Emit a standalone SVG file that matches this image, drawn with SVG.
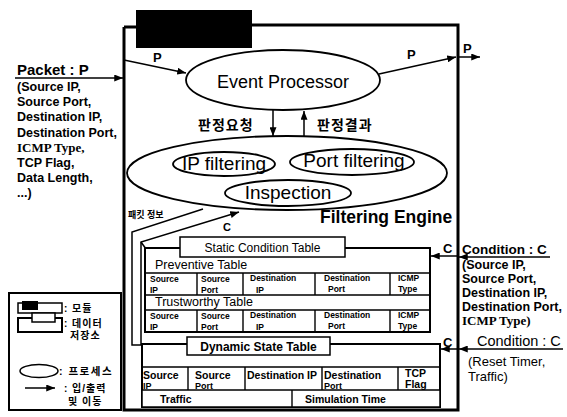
<svg xmlns="http://www.w3.org/2000/svg" width="567" height="417" viewBox="0 0 567 417">
<defs>
<marker id="ah" viewBox="0 0 10 8" refX="10" refY="4" markerWidth="9" markerHeight="7" markerUnits="userSpaceOnUse" orient="auto"><path d="M0,0 L10,4 L0,8 z" fill="#000"/></marker>
</defs>
<style>
.t{font-family:"Liberation Sans",Arial,sans-serif;fill:#000}
.b{font-weight:bold}
.s{font-family:"Liberation Serif","Times New Roman",serif;font-weight:bold;fill:#000}
.k{font-family:"Liberation Sans","Noto Sans CJK KR",sans-serif;font-weight:bold;fill:#000}
.ln{fill:none;stroke:#000;stroke-width:1.5}
.box{fill:#fff;stroke:#000;stroke-width:2}
.cell{fill:none;stroke:#000;stroke-width:1.4}
.ell{fill:#fff;stroke:#000;stroke-width:1.8}
.c8{font-size:8.5px}
.c10{font-size:10.5px}
</style>
<rect x="0" y="0" width="567" height="417" fill="#fff"/>

<g id="module">
<path d="M124,27 L136,27 M252,25 L458,25 L458,410 L124,410 L124,27" fill="none" stroke="#000" stroke-width="3"/>
<rect x="136" y="10" width="116" height="38" fill="#000"/>
</g>

<g id="event-processor">
<ellipse cx="283" cy="80" rx="97" ry="30" class="ell"/>
<text x="283" y="88" class="t" font-size="18" text-anchor="middle">Event Processor</text>
</g>

<g id="filtering-engine">
<ellipse cx="287" cy="173" rx="160" ry="37" class="ell"/>
<ellipse cx="224" cy="164" rx="51" ry="12" class="ell"/>
<text x="224" y="170" class="t" font-size="19" text-anchor="middle">IP filtering</text>
<ellipse cx="352" cy="162" rx="62" ry="13" class="ell"/>
<text x="354" y="167" class="t" font-size="19" text-anchor="middle">Port filtering</text>
<ellipse cx="288" cy="193" rx="63" ry="13" class="ell"/>
<text x="288" y="199" class="t" font-size="19" text-anchor="middle">Inspection</text>
<text x="320" y="223" class="t b" font-size="17.5">Filtering Engine</text>
</g>

<g id="static-condition-table">
<rect x="145" y="248" width="285" height="84" class="box"/>
<path class="cell" d="M145,273 H430 M145,295 H430 M145,310 H430 M197,273 V295 M243,273 V295 M315,273 V295 M390,273 V295 M197,310 V332 M243,310 V332 M315,310 V332 M390,310 V332"/>
<rect x="180" y="237" width="165" height="20" fill="#fff" stroke="#000" stroke-width="1.5"/>
<text x="262.5" y="252" class="t" font-size="12" text-anchor="middle">Static Condition Table</text>
<text x="155" y="269" class="t" font-size="12.5">Preventive Table</text>
<text x="155" y="306" class="t" font-size="12.5">Trustworthy Table</text>
<g class="t b c8">
<text x="150" y="282">Source</text><text x="150" y="293">IP</text>
<text x="201" y="282">Source</text><text x="201" y="293">Port</text>
<text x="250" y="281">Destination</text><text x="256" y="293">IP</text>
<text x="324" y="281">Destination</text><text x="328" y="292">Port</text>
<text x="398" y="281">ICMP</text><text x="398" y="292">Type</text>
<text x="150" y="319">Source</text><text x="150" y="330">IP</text>
<text x="201" y="319">Source</text><text x="201" y="330">Port</text>
<text x="250" y="318">Destination</text><text x="256" y="330">IP</text>
<text x="324" y="318">Destination</text><text x="328" y="329">Port</text>
<text x="398" y="318">ICMP</text><text x="398" y="329">Type</text>
</g>
</g>

<g id="dynamic-state-table">
<rect x="142" y="344" width="298" height="63" class="box"/>
<path class="cell" d="M142,367 H440 M188,367 V390 M245,367 V390 M322,367 V390 M398,367 V390"/>
<g class="t b c10">
<text x="143" y="379">Source</text><text x="143" y="389" font-size="9">IP</text>
<text x="195" y="379">Source</text><text x="195" y="389" font-size="9">Port</text>
<text x="247" y="379">Destination IP</text>
<text x="324" y="379">Destination</text><text x="324" y="389" font-size="9">Port</text>
<text x="405" y="377">TCP</text><text x="405" y="388">Flag</text>
</g>
<rect x="142" y="390" width="298" height="17" fill="#fff" stroke="#000" stroke-width="1.5"/>
<path class="cell" d="M292,390 V407"/>
<text x="160" y="403" class="t b c10">Traffic</text>
<text x="305" y="403" class="t b c10">Simulation Time</text>
<rect x="187" y="337" width="143" height="18" fill="#fff" stroke="#000" stroke-width="1.5"/>
<text x="258.5" y="351" class="t b" font-size="12" text-anchor="middle">Dynamic State Table</text>
</g>

<g id="connectors">
<path class="ln" d="M15,78 L123,78" marker-end="url(#ah)"/>
<path class="ln" d="M124,60 L186,73" marker-end="url(#ah)"/>
<path class="ln" d="M379,74 L456,57" marker-end="url(#ah)"/>
<path class="ln" d="M458,57 L480,57" marker-end="url(#ah)"/>
<path class="ln" d="M273,110 L273,136" marker-end="url(#ah)"/>
<path class="ln" d="M304,137 L304,111" marker-end="url(#ah)"/>
<path class="ln" d="M203,209 L132,232 L132,345 L142,345"/>
<path class="ln" d="M141,345 L141,242 L239,212" marker-end="url(#ah)"/>
<path class="ln" d="M141,242 L146,249"/>
<path class="ln" d="M550,257 L459,257" marker-end="url(#ah)"/>
<path class="ln" d="M458,256 L431,256" marker-end="url(#ah)"/>
<path class="ln" d="M563,349 L459,349" marker-end="url(#ah)"/>
<path class="ln" d="M458,349 L441,349" marker-end="url(#ah)"/>
</g>

<g id="labels">
<text x="153" y="62" class="t b" font-size="13">P</text>
<text x="407" y="59" class="t b" font-size="13">P</text>
<text x="463" y="53" class="t b" font-size="13">P</text>
<text x="198" y="130" class="k" font-size="14" letter-spacing="1">판정요청</text>
<text x="317" y="130" class="k" font-size="14" letter-spacing="1">판정결과</text>
<text x="128" y="218" class="k" font-size="9">패킷 정보</text>
<text x="223" y="231" class="t b" font-size="11">C</text>
<text x="443" y="253" class="t b" font-size="13">C</text>
<text x="443" y="347" class="t b" font-size="13">C</text>
</g>

<g id="packet-text">
<text x="17" y="75" class="t b" font-size="15">Packet : P</text>
<g class="t b" font-size="12.5">
<text x="17" y="91">(Source IP,</text>
<text x="17" y="106">Source Port,</text>
<text x="17" y="121">Destination IP,</text>
<text x="17" y="137">Destination Port,</text>
<text x="17" y="167">TCP Flag,</text>
<text x="17" y="182">Data Length,</text>
<text x="17" y="197">...)</text>
</g>
<text x="17" y="152" class="s" font-size="13">ICMP Type,</text>
</g>

<g id="condition-static-text">
<text x="462" y="254" class="t b" font-size="13.5">Condition : C</text>
<g class="t b" font-size="12.5">
<text x="462" y="269">(Source IP,</text>
<text x="462" y="283">Source Port,</text>
<text x="462" y="297">Destination IP,</text>
<text x="462" y="311">Destination Port,</text>
</g>
<text x="462" y="325" class="s" font-size="13">ICMP Type)</text>
</g>

<g id="condition-dynamic-text">
<text x="477" y="346" class="t" font-size="14.5">Condition : C</text>
<text x="468" y="366" class="t" font-size="13">(Reset Timer,</text>
<text x="468" y="381" class="t" font-size="13">Traffic)</text>
</g>

<g id="legend">
<rect x="9" y="293" width="112" height="117" fill="#fff" stroke="#000" stroke-width="2"/>
<rect x="18" y="303" width="44" height="10" fill="#fff" stroke="#000" stroke-width="1.5"/>
<rect x="22" y="301" width="16" height="9" fill="#000"/>
<text x="64" y="312" class="k" font-size="10" letter-spacing="1">: 모듈</text>
<rect x="18" y="318" width="44" height="14" fill="#fff" stroke="#000" stroke-width="2"/>
<rect x="32" y="313" width="23" height="9" fill="#fff" stroke="#000" stroke-width="1.5"/>
<text x="64" y="327" class="k" font-size="10" letter-spacing="1">: 데이터</text>
<text x="70" y="339" class="k" font-size="10" letter-spacing="1">저장소</text>
<ellipse cx="39" cy="371" rx="19" ry="6.5" fill="#fff" stroke="#000" stroke-width="1.5"/>
<text x="59" y="375" class="k" font-size="10.5" letter-spacing="1.5">: 프로세스</text>
<path class="ln" d="M25,388 L55,388" marker-end="url(#ah)"/>
<text x="64" y="392" class="k" font-size="10" letter-spacing="1">: 입/출력</text>
<text x="68" y="405" class="k" font-size="10" letter-spacing="1">및 이동</text>
</g>
</svg>
